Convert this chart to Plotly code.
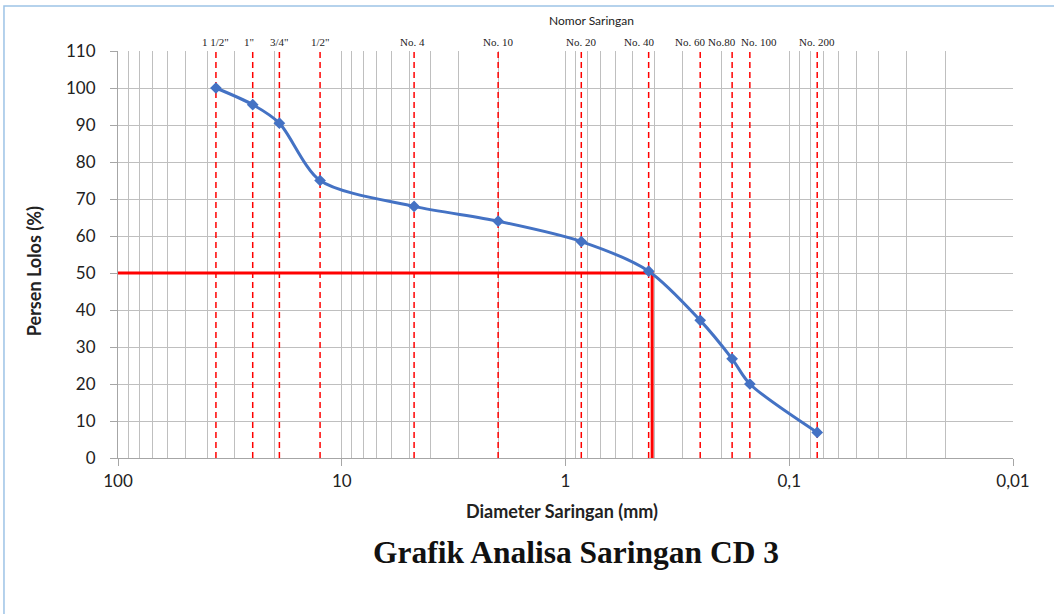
import numpy as np
import plotly.graph_objects as go

# Sieve data
sieve_names = ['1 1/2"', '1"', '3/4"', '1/2"', "No. 4", "No. 10", "No. 20",
               "No. 40", "No. 60", "No.80", "No. 100", "No. 200"]
sieve_mm = [36.5, 25.0, 19.0, 12.5, 4.75, 2.0, 0.85, 0.425, 0.25, 0.18, 0.15, 0.075]
percent_pass = [100.0, 95.5, 90.5, 75.0, 68.0, 64.0, 58.5, 50.5, 37.2, 26.8, 20.0, 6.9]
# horizontal nudges (px) of sieve labels, as in the reference
label_nudge = [0, -4, 0, 0, -2, 0, 0, -10, -10, -10, 9, 0]

# D50 reference
d50_mm = 0.41
d50_pct = 50

x_tickvals = [100, 10, 1, 0.1, 0.01]
x_ticktext = ["100", "10", "1", "0,1", "0,01"]
y_tickvals = list(range(0, 111, 10))

BLUE = "#4472C4"
RED = "#FF0000"
GRID = "#BFBFBF"
AXIS = "#A6A6A6"

fig = go.Figure()

# vertical dashed sieve lines
vx, vy = [], []
for s in sieve_mm:
    vx += [s, s, None]
    vy += [0, 110, None]
fig.add_trace(go.Scatter(x=vx, y=vy, mode="lines",
                         line=dict(color=RED, width=1.5, dash="6px,4px"),
                         hoverinfo="skip", showlegend=False))

# D50 lines
fig.add_trace(go.Scatter(x=[100, d50_mm, d50_mm], y=[d50_pct, d50_pct, 0], mode="lines",
                         line=dict(color=RED, width=3), hoverinfo="skip", showlegend=False))

# grading curve
fig.add_trace(go.Scatter(x=sieve_mm, y=percent_pass, mode="lines+markers",
                         line=dict(color=BLUE, width=3, shape="spline", smoothing=0.8),
                         marker=dict(symbol="diamond", size=9, color=BLUE),
                         showlegend=False))

minor_vals = [m * 10.0 ** e for e in range(-2, 2) for m in range(2, 10)]

fig.update_xaxes(type="log", range=[2, -2], tickmode="array", tickvals=x_tickvals,
                 ticktext=x_ticktext, showgrid=True, gridcolor=GRID, gridwidth=1,
                 showline=True, linecolor=AXIS, linewidth=1,
                 ticks="outside", ticklen=7, tickcolor=AXIS, ticklabelstandoff=1,
                 tickfont=dict(family="Lato", size=17, color="#222"),
                 minor=dict(tickmode="array", tickvals=minor_vals, showgrid=True,
                            gridcolor=GRID, gridwidth=1, ticks=""),
                 zeroline=False, mirror=False)
fig.update_yaxes(range=[0, 110], tickmode="array", tickvals=y_tickvals,
                 showgrid=True, gridcolor=GRID, gridwidth=1,
                 showline=True, linecolor=AXIS, linewidth=1,
                 ticks="outside", ticklen=7, tickcolor=AXIS, ticklabelstandoff=11,
                 tickfont=dict(family="Lato", size=17, color="#222"),
                 zeroline=False)

annotations = []
for name, s, dx in zip(sieve_names, sieve_mm, label_nudge):
    annotations.append(dict(x=np.log10(s), y=1.0, xref="x", yref="paper",
                            text=name, showarrow=False, yanchor="bottom", yshift=1, xshift=dx,
                            font=dict(family="Liberation Serif", size=11, color="#222")))

annotations += [
    dict(x=0.5296, y=1.076, xref="paper", yref="paper", text="Nomor Saringan",
         showarrow=False, xanchor="center", yanchor="middle",
         font=dict(family="Lato", size=12, color="#222")),
    dict(x=0.496, y=-0.130, xref="paper", yref="paper", text="<b>Diameter Saringan (mm)</b>",
         showarrow=False, xanchor="center", yanchor="middle",
         font=dict(family="Lato", size=18, color="#222")),
    dict(x=-0.0939, y=0.459, xref="paper", yref="paper", text="<b>Persen Lolos (%)</b>",
         showarrow=False, textangle=-90, xanchor="center", yanchor="middle",
         font=dict(family="Lato", size=18, color="#222")),
    dict(x=0.5117, y=-0.2334, xref="paper", yref="paper", text="<b>Grafik Analisa Saringan CD 3</b>",
         showarrow=False, xanchor="center", yanchor="middle",
         font=dict(family="Liberation Serif", size=31.5, color="#111")),
]

fig.update_layout(
    width=1054, height=614,
    margin=dict(l=118, r=41, t=51, b=156),
    plot_bgcolor="white", paper_bgcolor="white",
    annotations=annotations,
    shapes=[dict(type="rect", xref="paper", yref="paper",
                 x0=-0.1274, y0=-0.45, x1=1.1, y1=1.1106,
                 line=dict(color="#9DC3E6", width=1.5), layer="below")],
)

fig.write_html("out.html", config={"displayModeBar": False},
               post_script="document.body.style.margin='0';")
